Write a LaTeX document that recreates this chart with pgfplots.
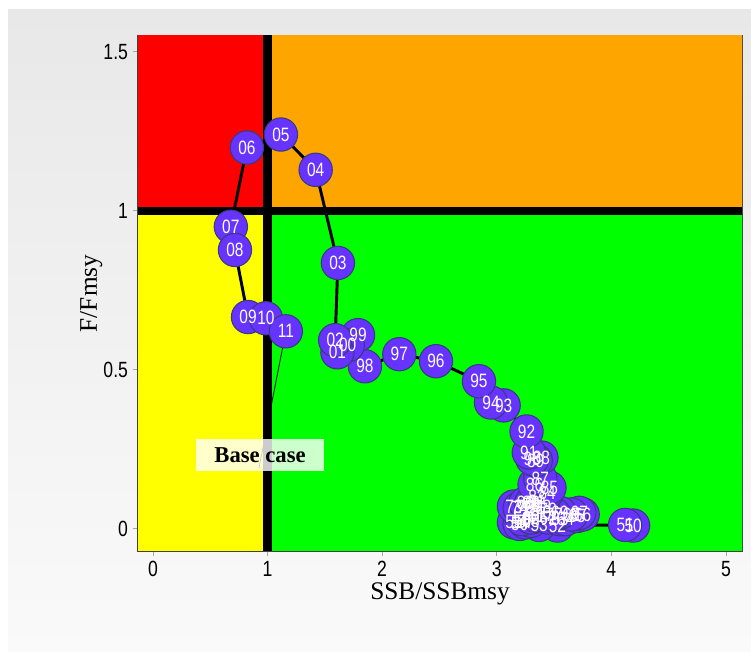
\documentclass[border=0pt]{standalone}
\usepackage{pgfplots}
\pgfplotsset{compat=1.18}
\usepackage{pgfplotstable}
\usepackage{fontspec}
\setmainfont{Liberation Serif}
\newfontfamily\narrow[FakeStretch=0.8]{Liberation Sans}
\definecolor{kred}{HTML}{FF0000}
\definecolor{korange}{HTML}{FFA500}
\definecolor{kyellow}{HTML}{FFFF00}
\definecolor{kgreen}{HTML}{00FF00}
\definecolor{ptfill}{HTML}{6633FF}
\definecolor{ptdraw}{HTML}{3A3A80}
\definecolor{bgtop}{HTML}{E8E8E8}
\definecolor{bgbot}{HTML}{FAFAFA}

\pgfplotstableread{
x y lab
4.19 0.010 50
4.12 0.012 51
3.53 0.010 52
3.37 0.012 53
3.20 0.020 54
3.15 0.020 55
3.20 0.015 56
3.25 0.020 57
3.30 0.025 58
3.22 0.030 59
3.30 0.035 60
3.35 0.040 61
3.45 0.035 62
3.55 0.030 63
3.60 0.030 64
3.70 0.040 65
3.75 0.045 66
3.72 0.050 67
3.65 0.045 68
3.55 0.050 69
3.45 0.060 70
3.35 0.065 71
3.25 0.070 72
3.15 0.070 73
3.20 0.065 74
3.30 0.060 75
3.40 0.050 76
3.50 0.045 77
3.40 0.070 78
3.30 0.075 79
3.25 0.080 80
3.35 0.085 81
3.30 0.080 82
3.35 0.100 83
3.44 0.114 84
3.46 0.129 85
3.33 0.139 86
3.38 0.158 87
3.39 0.224 88
3.34 0.215 89
3.31 0.220 90
3.28 0.240 91
3.26 0.306 92
3.06 0.388 93
2.95 0.397 94
2.845 0.464 95
2.47 0.527 96
2.15 0.549 97
1.85 0.511 98
1.79 0.609 99
1.70 0.577 00
1.61 0.555 01
1.59 0.593 02
1.614 0.836 03
1.42 1.129 04
1.117 1.240 05
0.82 1.199 06
0.68 0.950 07
0.716 0.877 08
0.83 0.666 09
0.986 0.662 10
1.16 0.621 11
}\kobe

\begin{document}
\begin{tikzpicture}[x=1pt,y=1pt]
\useasboundingbox (0,0) rectangle (563.25,489);
\fill[white] (0,0) rectangle (563.25,489);
\shade[top color=bgtop, bottom color=bgbot] (6,0) rectangle (563.25,481.5);
\begin{axis}[
  at={(103.5pt,75.75pt)}, anchor=south west,
  scale only axis, width=453pt, height=386.25pt,
  xmin=-0.13, xmax=5.14, ymin=-0.07, ymax=1.55,
  xtick={0,1,2,3,4,5}, ytick={0,0.5,1,1.5},
  yticklabels={0,0.5,1,1.5},
  xtick pos=bottom, ytick pos=left, tick align=outside,
  major tick length=4pt,
  tick style={gray!70, line width=0.6pt},
  axis line style={black!75, line width=0.9pt},
  ticklabel style={font=\narrow\fontsize{16.5}{18}\selectfont},
  /pgf/number format/assume math mode=true,
  xlabel={SSB/SSBmsy}, ylabel={F/Fmsy},
  label style={font=\fontsize{19}{22}\selectfont},
  xlabel style={yshift=2pt},
  ylabel style={yshift=-6pt},
]
\addplot[fill=kred, draw=none] coordinates {(-1,1) (1,1) (1,2) (-1,2)} \closedcycle;
\addplot[fill=korange, draw=none] coordinates {(1,1) (6,1) (6,2) (1,2)} \closedcycle;
\addplot[fill=kyellow, draw=none] coordinates {(-1,-1) (1,-1) (1,1) (-1,1)} \closedcycle;
\addplot[fill=kgreen, draw=none] coordinates {(1,-1) (6,-1) (6,1) (1,1)} \closedcycle;
\addplot[black, line width=6.5pt] coordinates {(1,-1) (1,2)};
\addplot[black, line width=6pt] coordinates {(-1,1) (6,1)};
\addplot[black, line width=0.6pt] coordinates {(0.925,0.19) (1.16,0.621)};
\addplot[black, line width=2.2pt, no markers] table[x=x,y=y] {\kobe};
\addplot[only marks, mark=*, mark size=12.5pt,
  mark options={fill=ptfill, draw=ptdraw, line width=0.8pt}
] table[x=x,y=y] {\kobe};
\addplot[draw=none, mark=none,
  point meta=explicit symbolic,
  nodes near coords,
  every node near coord/.append style={anchor=center, text=white,
    font=\narrow\fontsize{14.5}{15}\selectfont, inner sep=0pt}
] table[x=x,y=y,meta=lab] {\kobe};
\node[fill=white, fill opacity=0.8, text opacity=1, inner xsep=14pt, inner ysep=6pt,
  font=\bfseries\fontsize{17}{19}\selectfont] at (axis cs:0.935,0.232) {Base case};
\end{axis}
\end{tikzpicture}
\end{document}
